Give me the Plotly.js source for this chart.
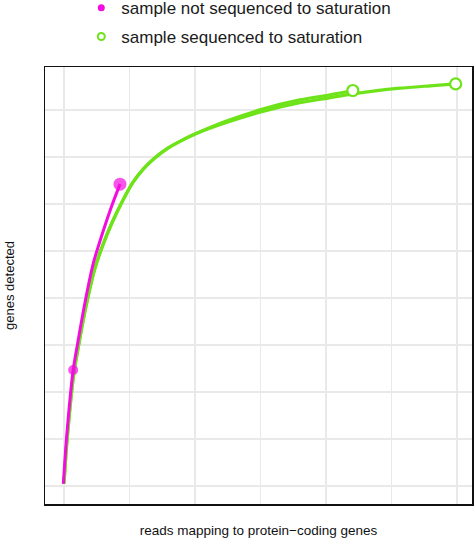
<!DOCTYPE html>
<html>
<head>
<meta charset="utf-8">
<script src="https://cdn.plot.ly/plotly-3.0.1.min.js"></script>
<style>
  html, body { margin: 0; padding: 0; background: white; }
  #chart { width: 474px; height: 541px; }
</style>
</head>
<body>
<div id="chart"></div>
<script>
// saturation curves (arbitrary units, grid = 1)
var pinkCurveX = [-0.01, 0.04, 0.14, 0.21, 0.32, 0.45, 0.60, 0.73, 0.855];
var pinkCurveY = [0.05, 1.04, 2.47, 3.05, 3.9, 4.75, 5.43, 5.96, 6.42];

var greenCurveAX = [0, 0.045, 0.15, 0.23, 0.34, 0.47, 0.60, 0.74, 0.89, 1.05, 1.21, 1.39, 1.57, 1.80, 2.01, 2.48, 3.02, 3.60, 4.03, 4.41];
var greenCurveAY = [0.05, 0.95, 2.4, 3.05, 3.85, 4.62, 5.15, 5.62, 6.05, 6.45, 6.74, 6.98, 7.17, 7.35, 7.49, 7.76, 8.01, 8.21, 8.31, 8.41];

var greenCurveBX = [0, 0.045, 0.15, 0.23, 0.34, 0.47, 0.60, 0.74, 0.89, 1.05, 1.21, 1.39, 1.57, 1.80, 2.01, 2.48, 3.02, 3.60, 4.03, 4.41, 5.13, 5.59, 5.98];
var greenCurveBY = [0.05, 0.95, 2.4, 3.05, 3.85, 4.62, 5.15, 5.62, 6.05, 6.45, 6.74, 6.98, 7.17, 7.35, 7.49, 7.73, 7.96, 8.15, 8.25, 8.34, 8.46, 8.51, 8.55];

// sampled points
var pinkPointX = [0.14, 0.855];
var pinkPointY = [2.47, 6.42];
var pinkPointSize = [10, 13];
var greenPointX = [4.41, 5.98];
var greenPointY = [8.41, 8.55];

var legendNames = ['sample not sequenced to saturation', 'sample sequenced to saturation'];
var xTicks = [0, 1, 2, 3, 4, 5, 6];
var yTicks = [0, 1, 2, 3, 4, 5, 6, 7, 8];

var pink = '#f40be0';
var green = '#6ee31a';

var plot_data = [
    {
        x: greenCurveBX, y: greenCurveBY, mode: 'lines', type: 'scatter',
        line: {color: green, width: 3.2, shape: 'spline', smoothing: 0.6},
        showlegend: false, hoverinfo: 'skip'
    },
    {
        x: greenCurveAX, y: greenCurveAY, mode: 'lines', type: 'scatter',
        line: {color: green, width: 3.2, shape: 'spline', smoothing: 0.6},
        showlegend: false, hoverinfo: 'skip'
    },
    {
        x: pinkCurveX, y: pinkCurveY, mode: 'lines', type: 'scatter',
        line: {color: pink, width: 3, shape: 'spline', smoothing: 0.6},
        showlegend: false, hoverinfo: 'skip'
    },
    {
        x: pinkPointX, y: pinkPointY, mode: 'markers', type: 'scatter',
        marker: {color: pink, size: pinkPointSize, line: {width: 0}},
        showlegend: false
    },
    {
        x: greenPointX, y: greenPointY, mode: 'markers', type: 'scatter',
        marker: {color: 'white', size: 11, line: {color: green, width: 2.2}},
        showlegend: false
    },
    // legend entries only
    {
        x: [null], y: [null], mode: 'markers', type: 'scatter',
        name: legendNames[0], legend: 'legend',
        marker: {color: pink, size: 7}
    },
    {
        x: [null], y: [null], mode: 'markers', type: 'scatter',
        name: legendNames[1], legend: 'legend2',
        marker: {color: 'white', size: 7, line: {color: green, width: 2}}
    }
];

var axisCommon = {
    showticklabels: false,
    ticks: '',
    zeroline: false,
    showgrid: true,
    gridcolor: '#e9e9e9',
    gridwidth: 1.6,
    showline: true,
    linecolor: '#111111',
    linewidth: 1.5,
    mirror: true
};

var legendFont = {family: 'Liberation Sans, Arial, sans-serif', size: 17, color: '#1a1a1a'};

var layout = {
    width: 474,
    height: 541,
    margin: {l: 45, r: 2, t: 67, b: 37, autoexpand: false},
    paper_bgcolor: 'white',
    plot_bgcolor: 'white',
    font: {family: 'Liberation Sans, Arial, sans-serif', color: '#111111'},
    xaxis: Object.assign({}, axisCommon, {
        range: [-0.29, 6.23],
        tickvals: xTicks,
        title: {text: 'reads mapping to protein\u2212coding genes', font: {size: 13.5}, standoff: 21}
    }),
    yaxis: Object.assign({}, axisCommon, {
        range: [-0.38, 8.91],
        tickvals: yTicks,
        title: {text: 'genes detected', font: {size: 13}, standoff: 26}
    }),
    legend: {
        x: 0.085, y: 1.176, xanchor: 'left', yanchor: 'top',
        bgcolor: 'rgba(0,0,0,0)', font: legendFont, itemsizing: 'trace'
    },
    legend2: {
        x: 0.085, y: 1.11, xanchor: 'left', yanchor: 'top',
        bgcolor: 'rgba(0,0,0,0)', font: legendFont, itemsizing: 'trace'
    }
};

var config = {responsive: false, displayModeBar: false, staticPlot: true};
Plotly.newPlot(document.getElementById('chart'), plot_data, layout, config);
</script>
</body>
</html>
